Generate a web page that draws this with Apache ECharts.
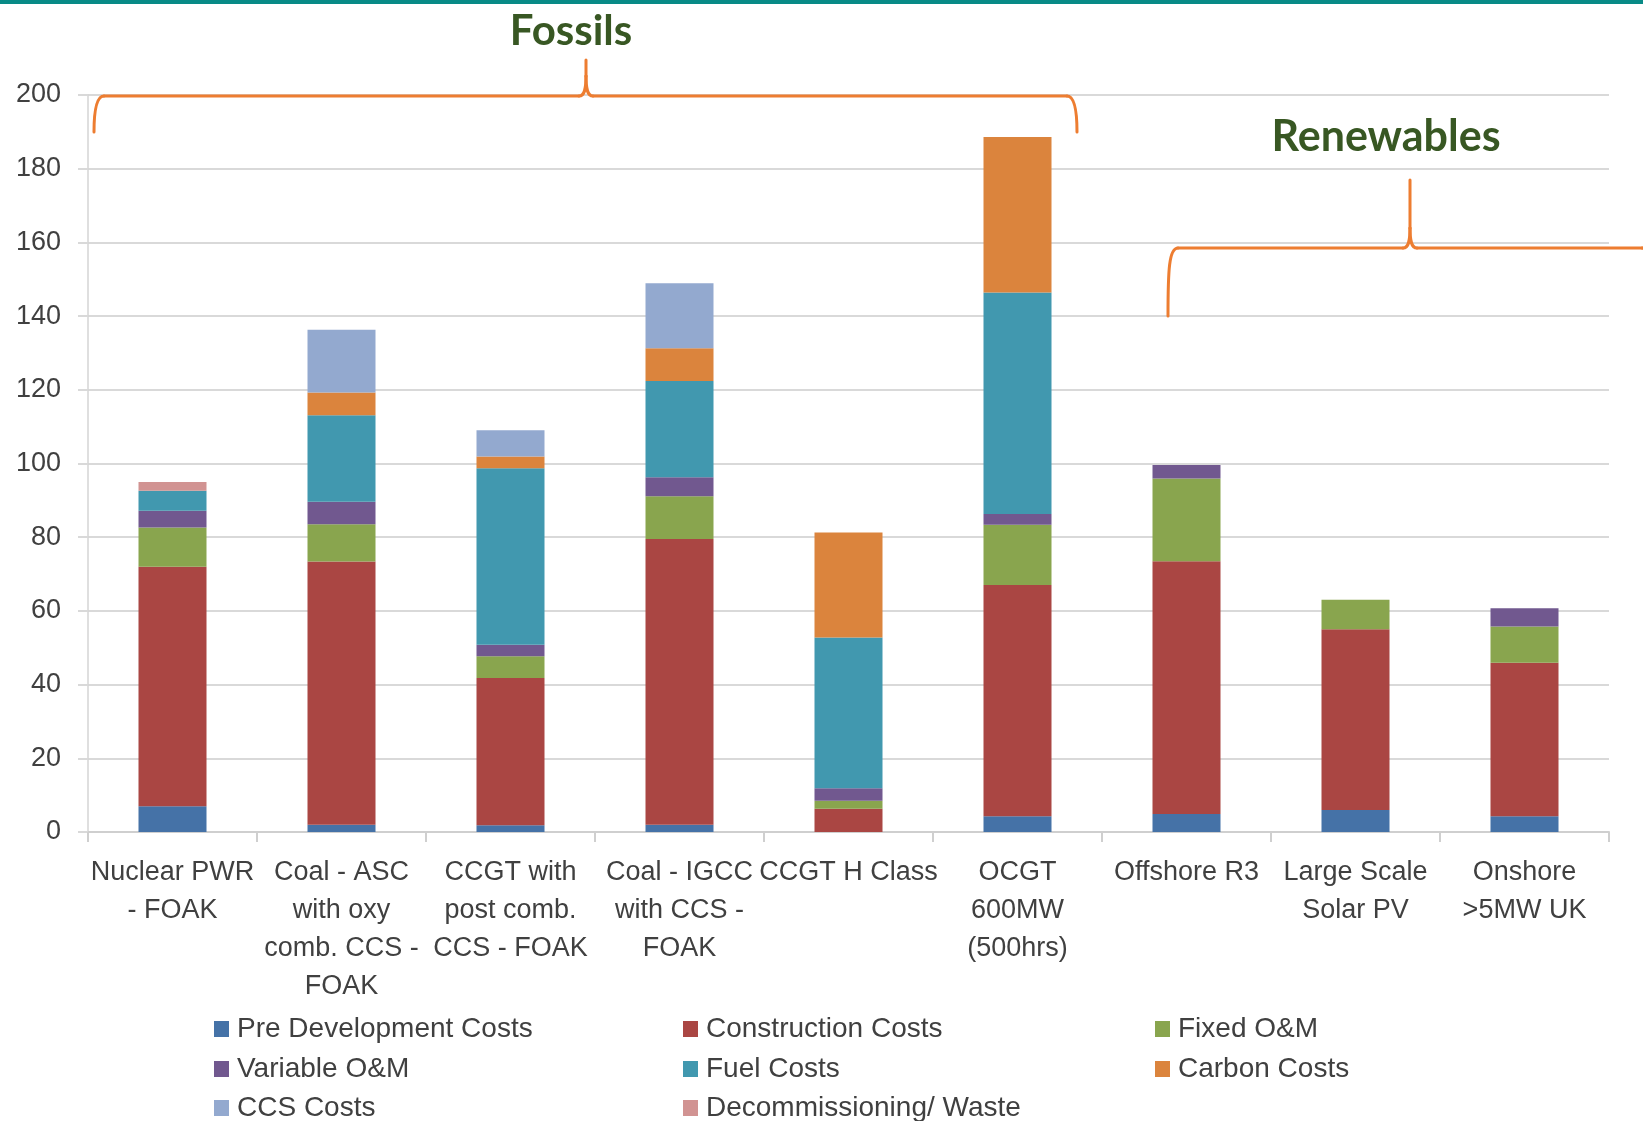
<!DOCTYPE html>
<html>
<head>
<meta charset="utf-8">
<script src="https://cdn.jsdelivr.net/npm/echarts@6/dist/echarts.min.js"></script>
<style>
  html, body { margin: 0; padding: 0; background: #ffffff; }
  #chart { width: 1643px; height: 1121px; }
</style>
</head>
<body>
<div id="chart"></div>
<script>
// ---- Data ----
const categories = [
  "Nuclear PWR\n- FOAK",
  "Coal - ASC\nwith oxy\ncomb. CCS -\nFOAK",
  "CCGT with\npost comb.\nCCS - FOAK",
  "Coal - IGCC\nwith CCS -\nFOAK",
  "CCGT H Class",
  "OCGT\n600MW\n(500hrs)",
  "Offshore R3",
  "Large Scale\nSolar PV",
  "Onshore\n>5MW UK"
];
const preDevelopment = [7.0, 2.0, 1.8, 2.0, 0, 4.3, 4.9, 6.0, 4.3];
const construction   = [65.0, 71.4, 40.0, 77.5, 6.3, 62.7, 68.6, 49.0, 41.6];
const fixedOM        = [10.6, 10.1, 5.9, 11.6, 2.2, 16.4, 22.4, 8.0, 9.9];
const variableOM     = [4.6, 6.1, 3.1, 5.2, 3.4, 2.9, 3.7, 0, 4.9];
const fuelCosts      = [5.4, 23.5, 47.9, 26.1, 40.9, 60.1, 0, 0, 0];
const carbonCosts    = [0, 6.2, 3.2, 8.9, 28.5, 42.2, 0, 0, 0];
const ccsCosts       = [0, 17.0, 7.1, 17.6, 0, 0, 0, 0, 0];
const decommissioning = [2.4, 0, 0, 0, 0, 0, 0, 0, 0];

const seriesNames = [
  "Pre Development Costs", "Construction Costs", "Fixed O&M", "Variable O&M",
  "Fuel Costs", "Carbon Costs", "CCS Costs", "Decommissioning/ Waste"
];
const seriesData = [preDevelopment, construction, fixedOM, variableOM,
  fuelCosts, carbonCosts, ccsCosts, decommissioning];
const seriesColors = ["#4572a7", "#aa4643", "#89a54e", "#71588f",
  "#4198af", "#db843d", "#93a9cf", "#d19392"];

const yTicks = { min: 0, max: 200, interval: 20 };
const groupTitles = ["Fossils", "Renewables"];

// ---- Styling ----
const FONT = "'Liberation Sans', Arial, 'DejaVu Sans', sans-serif";
const TXT = "#404040";
const GRID = "#d9d9d9";
const BRACE = "#ed7d31";
const TITLE_GREEN = "#385723";

// Legend grid: 3 columns x 3 rows (reading order left-to-right, top-to-bottom)
const legendCols = [214, 683, 1155];
const legendRows = [1029, 1069, 1108];

// Decorative curly brace built from lines and bezier curves
function brace(xl, yb, xt, yt, xr, ybr, yh) {
  const st = { stroke: BRACE, fill: null, lineWidth: 3, lineCap: 'round' };
  const els = [];
  const line = (x1, y1, x2, y2) => els.push({ type: 'line', silent: true, z: 100,
    shape: { x1, y1, x2, y2 }, style: st });
  const curve = (x1, y1, cpx1, cpy1, cpx2, cpy2, x2, y2) => els.push({ type: 'bezierCurve', silent: true, z: 100,
    shape: { x1, y1, cpx1, cpy1, cpx2, cpy2, x2, y2 }, style: st });
  curve(xl, yb, xl, yh + 22, xl + 1, yh, xl + 10, yh);
  line(xl + 10, yh, xt - 7, yh);
  curve(xt - 7, yh, xt - 1, yh, xt, yh - 8, xt, yh - 20);
  line(xt, yh - 20, xt, yt);
  curve(xt + 7, yh, xt + 1, yh, xt, yh - 8, xt, yh - 20);
  line(xt + 7, yh, xr - 10, yh);
  curve(xr - 10, yh, xr - 1, yh, xr, yh + 22, xr, ybr);
  return els;
}

const chart = echarts.init(document.getElementById('chart'), null, { renderer: 'canvas' });

const legendOrder = [0, 1, 2, 3, 4, 5, 6, 7];
const legends = legendOrder.map((si, k) => ({
  orient: 'horizontal',
  left: legendCols[k % 3],
  top: legendRows[Math.floor(k / 3)] - 15,
  padding: 0,
  itemGap: 0,
  itemWidth: 15,
  itemHeight: 16,
  icon: 'rect',
  selectedMode: false,
  data: [seriesNames[si]],
  textStyle: { fontFamily: FONT, fontSize: 28, color: TXT, lineHeight: 30, padding: [0, 0, 0, 3] }
}));

const graphics = [
  { type: 'rect', silent: true, shape: { x: 0, y: 0, width: 1643, height: 4 },
    style: { fill: '#088a86' } },
  { type: 'text', silent: true, z: 100, x: 571, y: 31,
    style: { text: groupTitles[0], fill: TITLE_GREEN, align: 'center', verticalAlign: 'middle',
      font: "bold 42px Lato, 'Liberation Sans', sans-serif" } },
  { type: 'text', silent: true, z: 100, x: 1386, y: 137,
    style: { text: groupTitles[1], fill: TITLE_GREEN, align: 'center', verticalAlign: 'middle',
      font: "bold 43px Lato, 'Liberation Sans', sans-serif" } }
].concat(brace(94, 132, 586, 60, 1077, 132, 96))
 .concat(brace(1168, 316, 1410, 180, 1652, 262, 248));

const option = {
  backgroundColor: '#ffffff',
  animation: false,
  textStyle: { fontFamily: FONT },
  grid: { left: 88, right: 34, top: 95, bottom: 289, containLabel: false },
  legend: legends,
  xAxis: {
    type: 'category',
    data: categories,
    axisLine: { show: true, lineStyle: { color: '#cfcfcf', width: 2 } },
    axisTick: { show: true, length: 10, lineStyle: { color: '#cfcfcf', width: 2 } },
    axisLabel: {
      interval: 0, margin: 22, color: TXT, fontFamily: FONT, fontSize: 27,
      lineHeight: 38, align: 'center'
    },
    splitLine: { show: false }
  },
  yAxis: {
    type: 'value',
    min: yTicks.min, max: yTicks.max, interval: yTicks.interval,
    axisLine: { show: true, lineStyle: { color: '#d4d4d4', width: 1.5 } },
    axisTick: { show: true, length: 10, lineStyle: { color: GRID, width: 2 } },
    axisLabel: { margin: 27, color: TXT, fontFamily: FONT, fontSize: 27 },
    splitLine: { show: true, lineStyle: { color: GRID, width: 2 } }
  },
  series: seriesNames.map((name, i) => ({
    name: name,
    type: 'bar',
    stack: 'total',
    barWidth: 68,
    data: seriesData[i],
    itemStyle: { color: seriesColors[i] },
    emphasis: { disabled: true }
  })),
  graphic: graphics
};

chart.setOption(option);
</script>
</body>
</html>
